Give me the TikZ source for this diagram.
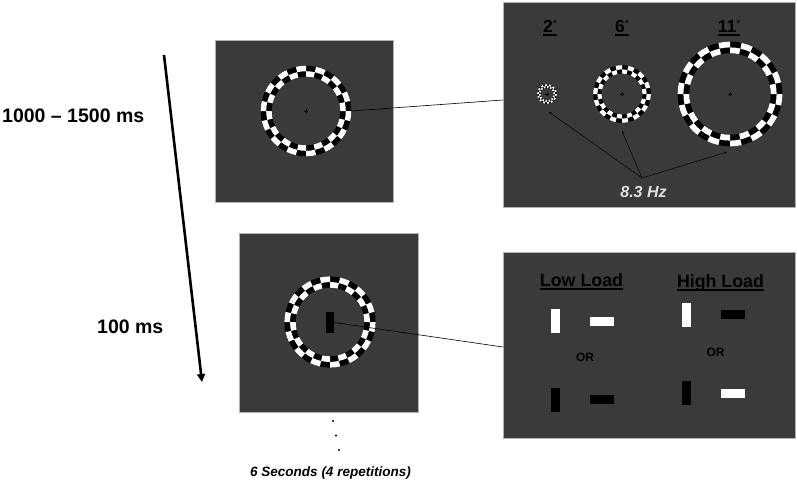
\documentclass[tikz,border=0pt]{standalone}
\usepackage{fontspec}
\setmainfont{Liberation Sans}
\usetikzlibrary{arrows.meta}

\definecolor{panelgray}{RGB}{58,58,58}
\definecolor{hzgray}{RGB}{225,225,225}

% checkerboard ring: centre, inner radius, outer radius
\newcommand\chkring[3]{%
  \begin{scope}[shift={(#1)}]
    \fill[black,even odd rule] (0,0) circle[radius=#3] (0,0) circle[radius=#2];
    \pgfmathsetmacro\rmid{(#2+#3)/2}
    \foreach \k in {0,2,...,26}{
      \pgfmathsetmacro\aa{\k*360/28}
      \pgfmathsetmacro\ab{\aa+360/28}
      \pgfmathsetmacro\ac{\aa+720/28}
      \fill[white] (\aa:\rmid) arc[start angle=\aa,end angle=\ab,radius=\rmid]
        -- (\ab:#3) arc[start angle=\ab,end angle=\aa,radius=#3] -- cycle;
      \fill[white] (\ab:#2) arc[start angle=\ab,end angle=\ac,radius=#2]
        -- (\ac:\rmid) arc[start angle=\ac,end angle=\ab,radius=\rmid] -- cycle;
    }
  \end{scope}}

% fixation cross
\newcommand\fixcross[1]{%
  \draw[line width=1pt] ([xshift=-2.3pt]#1) -- ([xshift=2.3pt]#1)
    ([yshift=-2.3pt]#1) -- ([yshift=2.3pt]#1);}

\newcommand\degsign{\raisebox{4.2pt}{\fontsize{10}{10}\selectfont °}}

\begin{document}
\begin{tikzpicture}[x=1pt,y=-1pt,
    panel/.style={fill=panelgray,draw=gray!60,line width=0.5pt,inner sep=0pt},
    link/.style={line width=0.6pt},
    hzline/.style={line width=0.5pt,-{Stealth[length=3pt,width=2.5pt]}},
    timearrow/.style={line width=2.6pt,-{Triangle[length=8pt,width=8pt]}},
    uline/.style={line width=1.8pt},
    timelab/.style={font=\fontsize{19.5}{22}\selectfont\bfseries,anchor=base west,inner sep=0pt},
    degree/.style={font=\fontsize{17.5}{20}\selectfont\bfseries,anchor=base,inner sep=0pt},
    loadlab/.style={font=\fontsize{17.8}{20}\selectfont\bfseries,anchor=base,inner sep=0pt},
    orlab/.style={font=\fontsize{12}{14}\selectfont\bfseries,anchor=base,inner sep=0pt},
    vbar/.style={minimum width=9pt,minimum height=24pt,inner sep=0pt},
    hbar/.style={minimum width=24pt,minimum height=9pt,inner sep=0pt}]

  \fill[white] (0,0) rectangle (797,480);

  % panels
  \node[panel,minimum width=178pt,minimum height=162pt] (cue) at (304,121) {};
  \node[panel,minimum width=292pt,minimum height=205pt] (sizes) at (649,104.5) {};
  \node[panel,minimum width=179pt,minimum height=179pt] (target) at (328.5,322.5) {};
  \node[panel,minimum width=292pt,minimum height=186pt] (loads) at (649,345) {};

  % rings
  \coordinate (cueC) at (306,111);
  \coordinate (smallC) at (547,94);
  \coordinate (midC) at (622,94);
  \coordinate (bigC) at (730,94);
  \coordinate (tgtC) at (330,322);

  \chkring{cueC}{34.3}{45.3}
  \chkring{smallC}{6.3}{9.8}
  \chkring{midC}{20.5}{28.8}
  \chkring{bigC}{40.8}{52.4}
  \chkring{tgtC}{34.3}{45.6}

  \fixcross{cueC}
  \fixcross{smallC}
  \fixcross{midC}
  \fixcross{bigC}

  \node[fill=black,minimum width=8pt,minimum height=21pt,inner sep=0pt] (cuebar) at (330,322.5) {};

  % size labels
  \node[degree,text=black] (deg2) at (550,32) {2\degsign};
  \node[degree,text=black] (deg6) at (622,32) {6\degsign};
  \node[degree,text=black] (deg11) at (729,32) {11\degsign};
  \foreach \n in {deg2,deg6,deg11}
    \draw[uline] ([yshift=-3pt]\n.base west) -- ([yshift=-3pt]\n.base east);

  % 8.3 Hz
  \node[font=\fontsize{16}{18}\selectfont\bfseries\itshape,text=hzgray,anchor=base,inner sep=0pt]
    (hz) at (643.5,197) {8.3 Hz};
  \coordinate (hzfork) at (642,178);
  \coordinate (smallTip) at (549,112);
  \coordinate (midTip) at (622,131);
  \coordinate (bigTip) at (727,152);
  \draw[hzline] (hzfork) -- (smallTip);
  \draw[hzline] (hzfork) -- (midTip);
  \draw[hzline] (hzfork) -- (bigTip);

  % load labels
  \node[loadlab] (low) at (581.5,286) {Low Load};
  \node[loadlab] (high) at (720.5,287) {High Load};
  \foreach \n in {low,high}
    \draw[uline] ([yshift=-3pt]\n.base west) -- ([yshift=-3pt]\n.base east);

  \node[vbar,fill=white] (lowA) at (555.5,321) {};
  \node[hbar,fill=white] (lowB) at (602,321) {};
  \node[orlab] (lowor) at (585,361.5) {OR};
  \node[vbar,fill=black] (lowC) at (555.5,399.5) {};
  \node[hbar,fill=black] (lowD) at (602,399.5) {};

  \node[vbar,fill=white] (highA) at (686.5,315) {};
  \node[hbar,fill=black] (highB) at (732.5,314.5) {};
  \node[orlab] (highor) at (715.5,356) {OR};
  \node[vbar,fill=black] (highC) at (686,393) {};
  \node[hbar,fill=white] (highD) at (732.5,393.5) {};

  % connectors between panels
  \coordinate (cueR) at (351,111);
  \coordinate (sizesIn) at (503,100);
  \coordinate (loadsIn) at (503,347);
  \draw[link] (cueR) -- (sizesIn);
  \draw[link] (cuebar.east) -- (loadsIn);

  % time line
  \coordinate (tstart) at (164,55);
  \coordinate (tend) at (202,382);
  \draw[timearrow] (tstart) -- (tend);
  \node[timelab] (t1) at (2,122.5) {1000 -- 1500 ms};
  \node[timelab] (t2) at (97,333) {100 ms};

  % repetitions
  \foreach \p in {(333,421),(336,435.5),(339,450)}
    \fill \p circle[radius=1.1];
  \node[font=\fontsize{13.5}{16}\selectfont\bfseries\itshape,anchor=base,inner sep=0pt]
    (reps) at (330.5,476) {6 Seconds (4 repetitions)};
\end{tikzpicture}
\end{document}
